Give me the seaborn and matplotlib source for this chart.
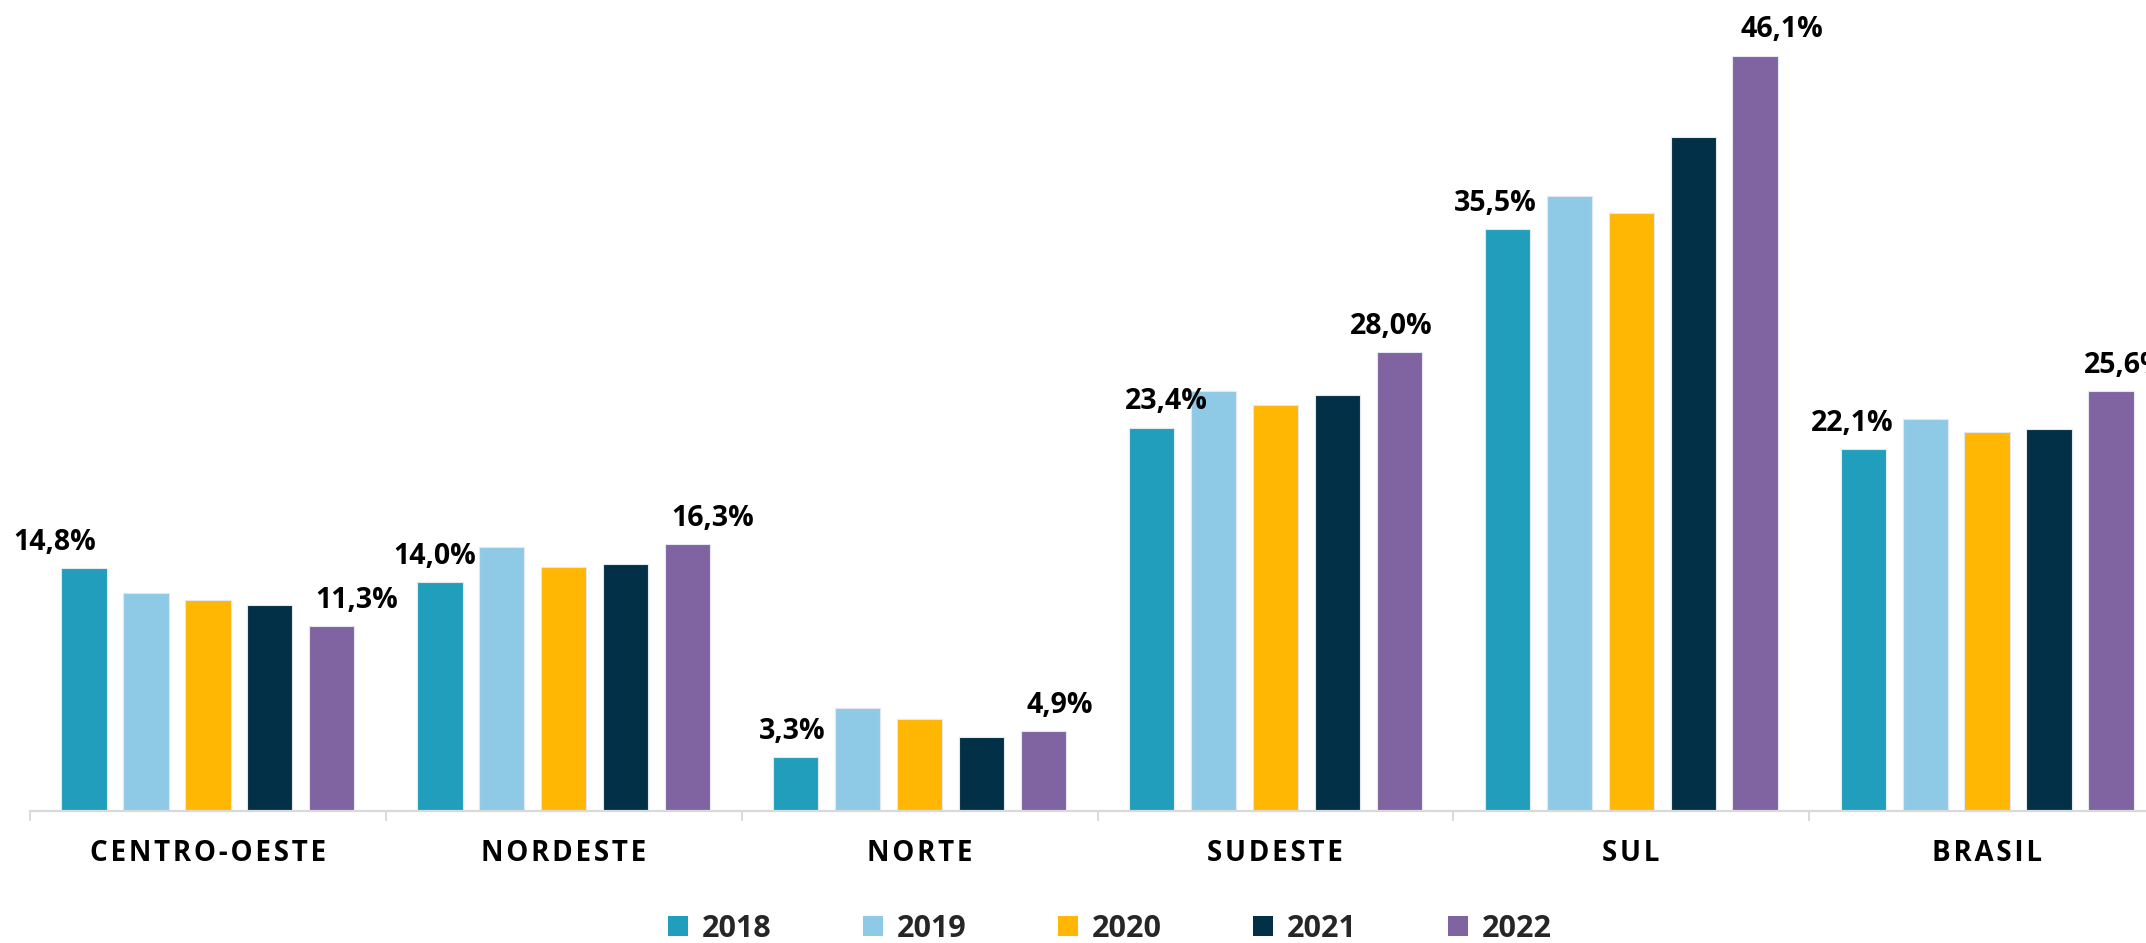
import matplotlib
matplotlib.use("Agg")
import matplotlib.pyplot as plt
from matplotlib.patches import Patch
import seaborn as sns
import pandas as pd

# Regions and yearly shares (%)
regions = ["CENTRO-OESTE", "NORDESTE", "NORTE", "SUDESTE", "SUL", "BRASIL"]
years = ["2018", "2019", "2020", "2021", "2022"]
v2018 = [14.8, 14.0, 3.3, 23.4, 35.5, 22.1]
v2019 = [13.3, 16.1, 6.3, 25.6, 37.5, 23.9]
v2020 = [12.9, 14.9, 5.6, 24.8, 36.5, 23.1]
v2021 = [12.6, 15.1, 4.5, 25.4, 41.1, 23.3]
v2022 = [11.3, 16.3, 4.9, 28.0, 46.1, 25.6]

colors = ["#219EBC", "#8ECAE6", "#FFB703", "#023047", "#8064A2"]

# horizontal nudges (pixels) for the first/last year labels of each region
nudge_first = [-29, -5, -4, 15, -12, -11]
nudge_last = [25, 25, 16, -8, 27, 14]

series = [v2018, v2019, v2020, v2021, v2022]
rows = []
for y, vals in zip(years, series):
    for r, v in zip(regions, vals):
        rows.append({"region": r, "year": y, "value": v})
df = pd.DataFrame(rows)

sns.set_theme(style="white")
plt.rcParams["font.family"] = ["Open Sans", "DejaVu Sans"]

W, H, DPI = 2146, 943, 100
fig = plt.figure(figsize=(W / DPI, H / DPI), dpi=DPI)
ax = fig.add_axes([30 / W, 132 / H, 2135 / W, 803 / H])

sns.barplot(data=df, x="region", y="value", hue="year", order=regions,
            hue_order=years, palette=colors, width=0.87, gap=0.27,
            saturation=1, legend=False, ax=ax, edgecolor="#E4E8EE",
            linewidth=0.8)

ax.set_ylim(0, 49)
ax.set_xlim(-0.5, len(regions) - 0.5)
ax.set_xlabel("")
ax.set_ylabel("")
ax.set_yticks([])
for s in ["top", "left", "right"]:
    ax.spines[s].set_visible(False)
ax.spines["bottom"].set_color("#D9D9D9")
ax.spines["bottom"].set_linewidth(1.6)

# category labels with widened letter spacing
spaced = ["\u200a".join(list(r)) for r in regions]
ax.set_xticks(range(len(regions)))
ax.set_xticklabels(spaced, fontsize=20, fontweight="bold", color="black")
ax.tick_params(axis="x", which="major", length=0, pad=20)
ax.set_xticks([i - 0.5 for i in range(len(regions) + 1)], minor=True)
ax.tick_params(axis="x", which="minor", length=7, width=1.4, color="#D9D9D9",
               direction="out", bottom=True)

# value labels on 2018 and 2022 bars
first_bars = ax.containers[0]
last_bars = ax.containers[-1]
for bars, vals, nud in [(first_bars, v2018, nudge_first), (last_bars, v2022, nudge_last)]:
    for bar, v, dx in zip(bars, vals, nud):
        xc = bar.get_x() + bar.get_width() / 2
        ax.annotate(f"{v:.1f}%".replace(".", ","), (xc, bar.get_height()),
                    xytext=(dx * 72 / DPI, 13), textcoords="offset points",
                    ha="center", va="baseline", fontsize=20.5,
                    fontweight="bold", color="black", annotation_clip=False)

handles = [Patch(facecolor=c, edgecolor="none") for c in colors]
fig.legend(handles, years, loc="center", ncol=5,
           bbox_to_anchor=(1110 / W, 1 - 929 / H), frameon=False,
           prop={"size": 22, "weight": "bold"}, handlelength=0.65,
           handleheight=0.65, handletextpad=0.45, columnspacing=3.0)

fig.savefig("out.png", dpi=DPI)
